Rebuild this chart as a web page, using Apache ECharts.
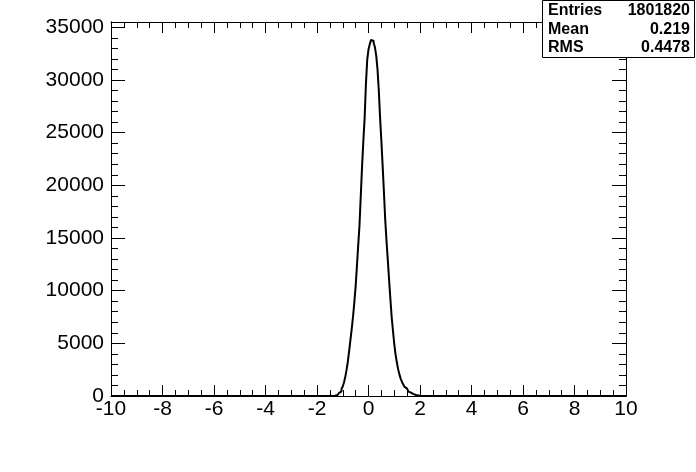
<!DOCTYPE html>
<html>
<head>
<meta charset="utf-8">
<script src="https://cdn.jsdelivr.net/npm/echarts@6/dist/echarts.min.js"></script>
<style>
html,body{margin:0;padding:0;background:#fff;}
#chart{width:696px;height:472px;}
</style>
</head>
<body>
<div id="chart"></div>
<script>
// Histogram data
const binLow = -1.5;
const binWidth = 0.05;
const counts = [
  0, 0, 10, 25, 45, 90, 170, 280, 440, 650,
  900, 1300, 1840, 2500, 3300, 4300, 5350, 6400, 7550, 8900,
  10400, 12300, 14300, 16200, 19000, 21800, 24200, 26400, 29600, 31900,
  32900, 33400, 33800, 33700, 33500, 33100, 32300, 31000, 29000, 26400,
  24200, 21800, 19300, 16700, 14700, 12900, 11000, 9200, 7500, 6200,
  4950, 3950, 3200, 2550, 2050, 1650, 1330, 1080, 870, 700,
  550, 420, 320, 250, 180, 130, 90, 60, 40, 20,
  10, 0, 0, 0
];
const xMin = -10, xMax = 10;
const yMin = 0, yMax = 35500;
const xTickLabels = [-10, -8, -6, -4, -2, 0, 2, 4, 6, 8, 10];
const yTickLabels = [0, 5000, 10000, 15000, 20000, 25000, 30000, 35000];
const yMinorTicks = [];
for (let v = 0; v <= 35000; v += 1000) yMinorTicks.push(v);
const statsLabels = ['Entries', 'Mean', 'RMS'];
const statsValues = ['1801820', '0.219', '0.4478'];

const histData = [[xMin, 0]];
for (let i = 0; i < counts.length; i++) {
  histData.push([binLow + i * binWidth, counts[i]]);
}
histData.push([binLow + counts.length * binWidth, 0]);
histData.push([xMax, 0]);

const font = 'Liberation Sans, Arial, Helvetica, sans-serif';
const black = '#000';

function xAx(pos, showLabel) {
  return {
    type: 'value', position: pos, min: xMin, max: xMax, interval: 2,
    axisLine: {show: true, onZero: false, lineStyle: {color: black, width: 1}},
    axisTick: {show: true, inside: true, length: 11, lineStyle: {color: black}},
    minorTick: {show: true, splitNumber: 4, length: 6, lineStyle: {color: black}},
    splitLine: {show: false}, minorSplitLine: {show: false},
    axisLabel: {show: showLabel, color: black, fontFamily: font, fontSize: 21, margin: 3,
      showMinLabel: true, showMaxLabel: true, formatter: v => String(v)},
  };
}
function yAx(pos, showLabel, major) {
  return {
    type: 'value', position: pos, min: yMin, max: yMax,
    axisLine: {show: true, onZero: false, lineStyle: {color: black, width: 1}},
    axisTick: {show: true, inside: true, length: major ? 14 : 7,
      customValues: major ? yTickLabels : yMinorTicks, lineStyle: {color: black}},
    splitLine: {show: false},
    axisLabel: {show: showLabel, color: black, fontFamily: font, fontSize: 21, margin: 7,
      customValues: yTickLabels, formatter: v => String(v)},
  };
}

const chart = echarts.init(document.getElementById('chart'), null, {renderer: 'canvas'});
const statsGraphics = [{
  type: 'rect', shape: {x: 542.5, y: 0.5, width: 152, height: 57},
  style: {fill: '#fff', stroke: black, lineWidth: 1}, z: 100
}];
for (let i = 0; i < statsLabels.length; i++) {
  statsGraphics.push({type: 'text', x: 548, y: 11 + i * 18.5, z: 101,
    style: {text: statsLabels[i], fill: black, font: 'bold 16px ' + font, textVerticalAlign: 'middle', textAlign: 'left'}});
  statsGraphics.push({type: 'text', x: 690, y: 11 + i * 18.5, z: 101,
    style: {text: statsValues[i], fill: black, font: 'bold 16px ' + font, textVerticalAlign: 'middle', textAlign: 'right'}});
}

chart.setOption({
  animation: false,
  backgroundColor: '#fff',
  grid: {left: 111, right: 70, top: 22, bottom: 76, containLabel: false},
  xAxis: [xAx('bottom', true), xAx('top', false)],
  yAxis: [yAx('left', true, true), yAx('left', false, false), yAx('right', false, true), yAx('right', false, false)],
  series: [{
    type: 'line', data: histData, step: 'end', symbol: 'none',
    xAxisIndex: 0, yAxisIndex: 0,
    lineStyle: {color: black, width: 2}, z: 10
  }],
  graphic: statsGraphics
});
</script>
</body>
</html>
